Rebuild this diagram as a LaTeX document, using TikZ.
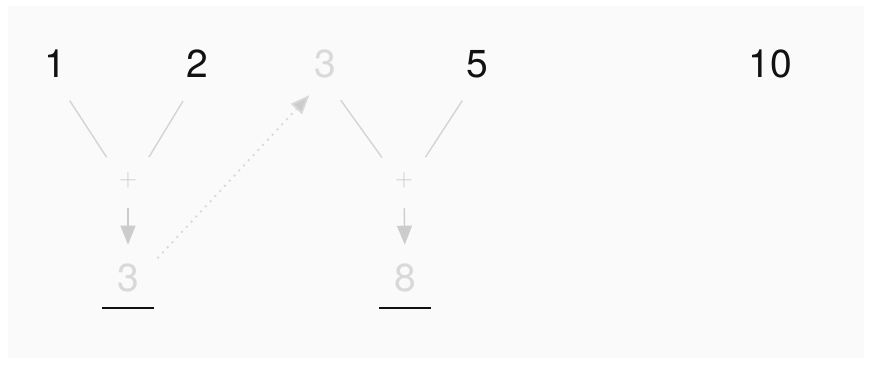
\documentclass[tikz,border=0pt]{standalone}
\usepackage{fontspec}
\setmainfont{TeX Gyre Heros}
\usepackage{xcolor}
\usetikzlibrary{arrows.meta, positioning}
\definecolor{ink}{HTML}{111111}
\definecolor{faded}{HTML}{D9D9D9}
\definecolor{edgegray}{HTML}{D4D4D4}
\definecolor{tipgray}{HTML}{CCCCCC}
\definecolor{bg}{HTML}{FAFAFA}

\begin{document}
\begin{tikzpicture}[x=1pt, y=-1pt,
  num/.style={inner sep=0pt, font=\fontsize{39}{39}\selectfont},
  op/.style={inner sep=0pt, minimum width=26pt, minimum height=20pt,
             text=tipgray, font=\fontsize{33}{33}\selectfont},
  leg/.style={draw=edgegray, line width=1.4pt, shorten <=27pt, shorten >=15pt},
  down/.style={draw=tipgray, line width=1.4pt, shorten <=18pt, shorten >=19pt,
               -{Triangle[width=15pt,length=19pt]}},
  uline/.style={fill=ink, inner sep=0pt, minimum width=52pt, minimum height=2pt},
  >=stealth]
\fill[white] (0,0) rectangle (871,365);
\fill[bg] (8,6) rectangle (864,358);
% inputs
\node[num, text=ink] (n1) at (55,64) {1};
\node[num, text=ink] (n2) at (197,64) {2};
\node[num, text=faded] (t3) at (325,64) {3};
\node[num, text=ink] (n5) at (477,64) {5};
\node[num, text=ink] (n10) at (770,64) {10};
% first sum
\node[op] (pA) at (128,180) {$+$};
\node[num, text=faded] (rA) at (128,278) {3};
\node[uline, below=14pt of rA] (uA) {};
\draw[leg] (n1.south) -- (pA.north west);
\draw[leg] (n2.south) -- (pA.north east);
\draw[down] (pA.south) -- (rA.north);
% second sum
\node[op] (pB) at (404,180) {$+$};
\node[num, text=faded] (rB) at (405,278) {8};
\node[uline, below=14pt of rB] (uB) {};
\draw[leg] (t3.south) -- (pB.north west);
\draw[leg] (n5.south) -- (pB.north east);
\draw[down] (pB.south) -- (rB.north);
% carry the result up
\draw[draw=faded, line width=1.8pt, dash pattern=on 2pt off 5pt,
      shorten <=27pt, shorten >=23pt,
      -{Triangle[width=15pt,length=19pt,fill=tipgray]}] (rA.east) -- (t3.south);
\end{tikzpicture}
\end{document}
